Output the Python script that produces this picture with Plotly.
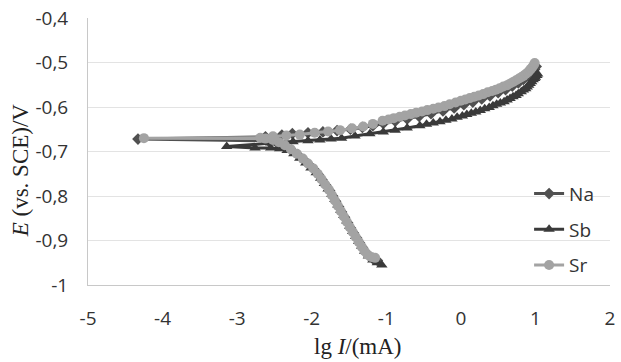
import plotly.graph_objects as go

# Data: lg I (mA) vs E (V vs SCE), ordered by potential (cathodic -> Ecorr -> anodic)
sr_lgI = [-1.15, -1.20, -1.25, -1.29, -1.33, -1.37, -1.41, -1.45, -1.49, -1.53, -1.57, -1.61,
          -1.65, -1.69, -1.73, -1.77, -1.82, -1.87, -1.92, -1.98, -2.05, -2.12, -2.20, -2.28,
          -2.36, -2.44, -2.52, -2.62, -4.25,
          -2.69, -2.52, -2.34, -2.16, -1.96, -1.78, -1.62, -1.46, -1.31, -1.18, -1.05, -0.97,
          -0.90, -0.82, -0.75, -0.67, -0.60, -0.52, -0.45, -0.37, -0.30, -0.22, -0.15, -0.07,
          0.00, 0.06, 0.12, 0.18, 0.24, 0.30, 0.36, 0.42, 0.47, 0.52, 0.57, 0.62, 0.66, 0.70,
          0.74, 0.78, 0.81, 0.84, 0.87, 0.90, 0.92, 0.94, 0.96, 0.98, 0.99]
sr_E = [-0.939, -0.937, -0.932, -0.924, -0.914, -0.903, -0.892, -0.881, -0.870, -0.858, -0.846, -0.834,
        -0.822, -0.810, -0.798, -0.786, -0.774, -0.762, -0.750, -0.738, -0.727, -0.716, -0.705, -0.695,
        -0.686, -0.679, -0.674, -0.671, -0.670,
        -0.669, -0.666, -0.664, -0.662, -0.658, -0.655, -0.652, -0.648, -0.644, -0.638, -0.631, -0.628,
        -0.625, -0.622, -0.619, -0.616, -0.613, -0.610, -0.607, -0.604, -0.601, -0.598, -0.594, -0.590,
        -0.586, -0.583, -0.580, -0.577, -0.574, -0.571, -0.567, -0.564, -0.561, -0.558, -0.554, -0.551,
        -0.547, -0.544, -0.540, -0.536, -0.533, -0.530, -0.526, -0.522, -0.518, -0.514, -0.510, -0.505,
        -0.501]

sb_lgI = [-1.06, -1.12, -1.18, -1.24, -1.29, -1.33, -1.37, -1.41, -1.45, -1.49, -1.53, -1.57,
          -1.61, -1.65, -1.69, -1.73, -1.78, -1.83, -1.88, -1.94, -2.01, -2.08, -2.16, -2.24,
          -2.33, -2.43, -2.55, -2.76, -3.14,
          -2.55, -2.25, -2.05, -1.89, -1.74, -1.60, -1.42, -1.22, -1.04, -0.88, -0.72, -0.55,
          -0.46, -0.37, -0.28, -0.20, -0.12, -0.05, 0.02, 0.08, 0.14, 0.20, 0.26, 0.32, 0.38,
          0.43, 0.48, 0.53, 0.58, 0.62, 0.66, 0.70, 0.74, 0.77, 0.81, 0.84, 0.87, 0.89, 0.91,
          0.93, 0.95, 0.97, 0.99, 1.00, 1.02, 1.03]
sb_E = [-0.955, -0.950, -0.944, -0.935, -0.924, -0.913, -0.902, -0.891, -0.880, -0.868, -0.856, -0.844,
        -0.832, -0.820, -0.808, -0.796, -0.784, -0.772, -0.760, -0.748, -0.737, -0.726, -0.715, -0.705,
        -0.698, -0.694, -0.692, -0.692, -0.689,
        -0.681, -0.678, -0.676, -0.674, -0.672, -0.670, -0.665, -0.660, -0.656, -0.652, -0.647, -0.642,
        -0.639, -0.636, -0.633, -0.630, -0.627, -0.623, -0.620, -0.617, -0.614, -0.611, -0.608, -0.604,
        -0.601, -0.597, -0.594, -0.591, -0.588, -0.584, -0.581, -0.577, -0.574, -0.570, -0.566, -0.562,
        -0.559, -0.555, -0.551, -0.547, -0.543, -0.539, -0.536, -0.533, -0.529, -0.526]

na_lgI = [-1.12, -1.18, -1.23, -1.28, -1.32, -1.36, -1.40, -1.44, -1.48, -1.52, -1.56, -1.60,
          -1.64, -1.68, -1.72, -1.76, -1.81, -1.86, -1.91, -1.97, -2.04, -2.11, -2.19, -2.27,
          -2.36, -2.46, -2.58, -4.33,
          -2.62, -2.40, -2.26, -2.05, -1.85, -1.66, -1.48, -1.32, -1.18, -1.04, -0.88, -0.72,
          -0.56, -0.40, -0.24, -0.09, 0.04, 0.16, 0.28, 0.39, 0.50, 0.60, 0.69, 0.77, 0.84,
          0.90, 0.95, 0.99, 1.01]
na_E = [-0.945, -0.941, -0.935, -0.926, -0.916, -0.905, -0.894, -0.883, -0.872, -0.860, -0.848, -0.836,
        -0.824, -0.812, -0.800, -0.788, -0.776, -0.764, -0.752, -0.740, -0.729, -0.718, -0.707, -0.697,
        -0.688, -0.681, -0.676, -0.672,
        -0.667, -0.663, -0.660, -0.658, -0.656, -0.653, -0.650, -0.646, -0.642, -0.637, -0.632, -0.627,
        -0.621, -0.615, -0.609, -0.602, -0.595, -0.589, -0.582, -0.575, -0.568, -0.561, -0.553, -0.546,
        -0.538, -0.530, -0.522, -0.515, -0.509]

x_ticks = [-5, -4, -3, -2, -1, 0, 1, 2]
y_ticks = [-1.0, -0.9, -0.8, -0.7, -0.6, -0.5, -0.4]
y_labels = ["-1", "-0,9", "-0,8", "-0,7", "-0,6", "-0,5", "-0,4"]

fig = go.Figure()
fig.add_trace(go.Scatter(x=na_lgI, y=na_E, name="Na", mode="lines+markers", legendgroup="na",
                         line=dict(color="#505050", width=3),
                         marker=dict(symbol="diamond", size=9, color="#505050")))
fig.add_trace(go.Scatter(x=sb_lgI, y=sb_E, name="Sb", mode="lines+markers", legendgroup="sb",
                         line=dict(color="#3a3a3a", width=3),
                         marker=dict(symbol="triangle-up", size=10, color="#3a3a3a")))
fig.add_trace(go.Scatter(x=sr_lgI, y=sr_E, name="Sr", mode="lines+markers", legendgroup="sr",
                         line=dict(color="#a3a3a3", width=3),
                         marker=dict(symbol="circle", size=10, color="#a3a3a3")))

tickfont = dict(family="Open Sans, sans-serif", size=19, color="#333333")

fig.update_layout(
    width=621, height=362,
    margin=dict(l=88, r=11, t=18, b=77),
    plot_bgcolor="white", paper_bgcolor="white",
    showlegend=True,
    legend=dict(x=0.845, y=0.413, xanchor="left", yanchor="top",
                font=dict(family="Open Sans, sans-serif", size=19, color="#333333"),
                tracegroupgap=8, bgcolor="rgba(0,0,0,0)", itemwidth=30),
    xaxis=dict(range=[-5, 2], tickvals=x_ticks, ticktext=[str(v) for v in x_ticks],
               showgrid=False, zeroline=False, showline=True, linecolor="#c8c8c8", linewidth=1,
               ticks="", tickfont=tickfont, ticklabelstandoff=16, automargin=False,
               ticklabeloverflow="allow"),
    yaxis=dict(range=[-1.0, -0.4], tickvals=y_ticks, ticktext=y_labels,
               showgrid=True, gridcolor="#e3e3e3", gridwidth=1, zeroline=False,
               showline=True, linecolor="#c8c8c8", linewidth=1,
               ticks="", tickfont=tickfont, ticklabelstandoff=15, automargin=False,
               ticklabeloverflow="allow"),
    annotations=[
        dict(text="lg <i>I</i>/(mA)", xref="paper", yref="paper", x=0.518, y=-0.232,
             xanchor="center", yanchor="middle", showarrow=False,
             font=dict(family="Liberation Serif, Times New Roman, serif", size=23, color="#222222")),
        dict(text="<i>E</i> (vs. SCE)/V", xref="paper", yref="paper", x=-0.13, y=0.43,
             xanchor="center", yanchor="middle", showarrow=False, textangle=-90,
             font=dict(family="Liberation Serif, Times New Roman, serif", size=23, color="#222222")),
    ],
)

# remove the page's default body margin so the figure sits at the window's top-left corner
fig.write_html("out.html", config={"displayModeBar": False},
               post_script="document.body.style.margin='0';")
